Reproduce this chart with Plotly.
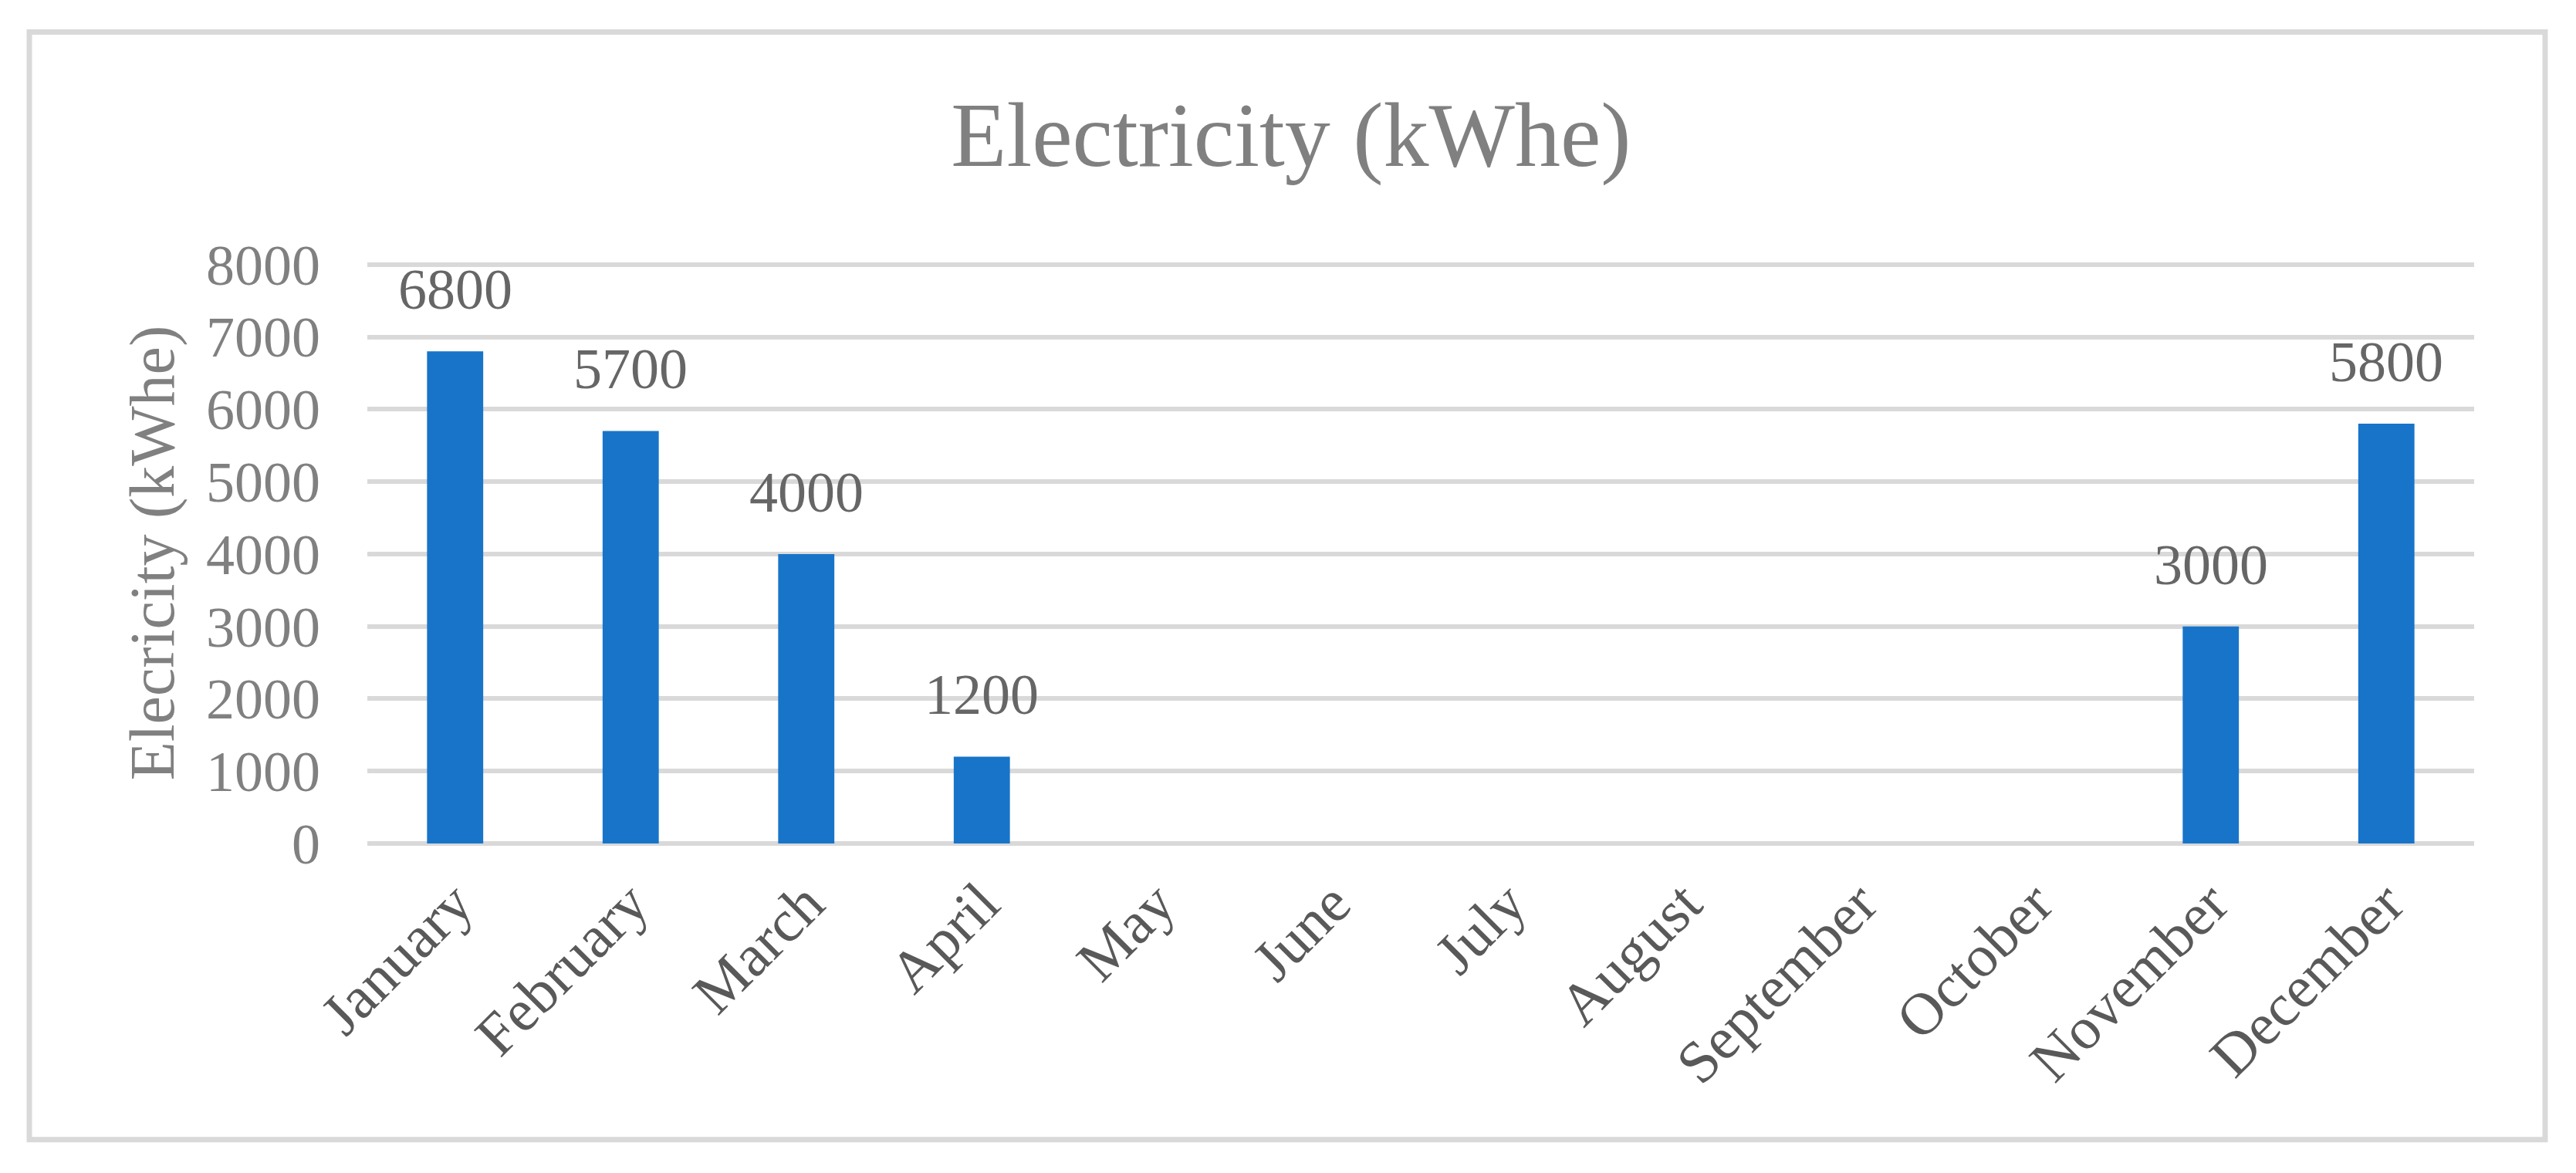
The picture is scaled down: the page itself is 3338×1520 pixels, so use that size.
import plotly.graph_objects as go

# ---- data ----
months = ["January", "February", "March", "April", "May", "June", "July",
          "August", "September", "October", "November", "December"]
electricity = [6800, 5700, 4000, 1200, 0, 0, 0, 0, 0, 0, 3000, 5800]
y_ticks = [0, 1000, 2000, 3000, 4000, 5000, 6000, 7000, 8000]
chart_title = "Electricity (kWhe)"
y_title = "Elecricity (kWhe)"

# ---- layout geometry (screen pixels; page body has an 8px margin) ----
OFF = 8
W, H = 3338 - OFF, 1520 - OFF
plot_left, plot_right = 476 - OFF, 3206 - OFF
y0_px, y8000_px = 1093 - OFF, 342.5 - OFF
YMAX = 8030
px_per_unit = (y0_px - y8000_px) / 8000
plot_top = y0_px - YMAX * px_per_unit
L, R, T, B = plot_left, W - plot_right, plot_top, H - y0_px
FONT = "Liberation Serif, Times New Roman, serif"
GRID = "#d9d9d9"

fig = go.Figure()
fig.add_trace(go.Bar(
    x=months, y=electricity,
    marker=dict(color="#1874C9", line=dict(width=0)),
    hoverinfo="x+y",
))

# data labels (non-zero months only)
for m, v in zip(months, electricity):
    if v:
        fig.add_annotation(x=m, y=v, text=str(v), showarrow=False,
                           yanchor="bottom", yshift=37,
                           font=dict(family=FONT, size=74, color="#666666"))

pw, ph = W - L - R, H - T - B
def px_x(x):
    return (x - OFF - L) / pw
def px_y(y):
    return (H - B - (y - OFF)) / ph

fig.add_shape(type="rect", xref="paper", yref="paper",
              x0=px_x(38), x1=px_x(3298), y0=px_y(1477), y1=px_y(41),
              line=dict(color=GRID, width=7), fillcolor="rgba(0,0,0,0)",
              layer="below")

fig.update_layout(
    width=W, height=H,
    margin=dict(l=L, r=R, t=T, b=B, autoexpand=False),
    paper_bgcolor="white", plot_bgcolor="white",
    bargap=0.68,
    showlegend=False,
    font=dict(family=FONT),
    title=dict(text=chart_title, x=0.5, xref="container", xanchor="center",
               y=1 - (174 - OFF) / H, yref="container", yanchor="middle",
               font=dict(family=FONT, size=118, color="#808080")),
    xaxis=dict(
        tickangle=-45, tickfont=dict(family=FONT, size=77, color="#595959"),
        showgrid=False, showline=False, zeroline=False, ticks="",
        ticklabelstandoff=16, automargin=False,
    ),
    yaxis=dict(
        range=[0, YMAX], tickvals=y_ticks, ticktext=[str(t) for t in y_ticks],
        tickfont=dict(family=FONT, size=74, color="#808080"),
        showgrid=True, gridcolor=GRID, gridwidth=6,
        zeroline=True, zerolinecolor=GRID, zerolinewidth=6,
        showline=False, ticks="", ticklabelstandoff=60, automargin=False,
        title=dict(text=y_title, standoff=14,
                   font=dict(family=FONT, size=82, color="#808080")),
    ),
)

fig.write_html("out.html")
